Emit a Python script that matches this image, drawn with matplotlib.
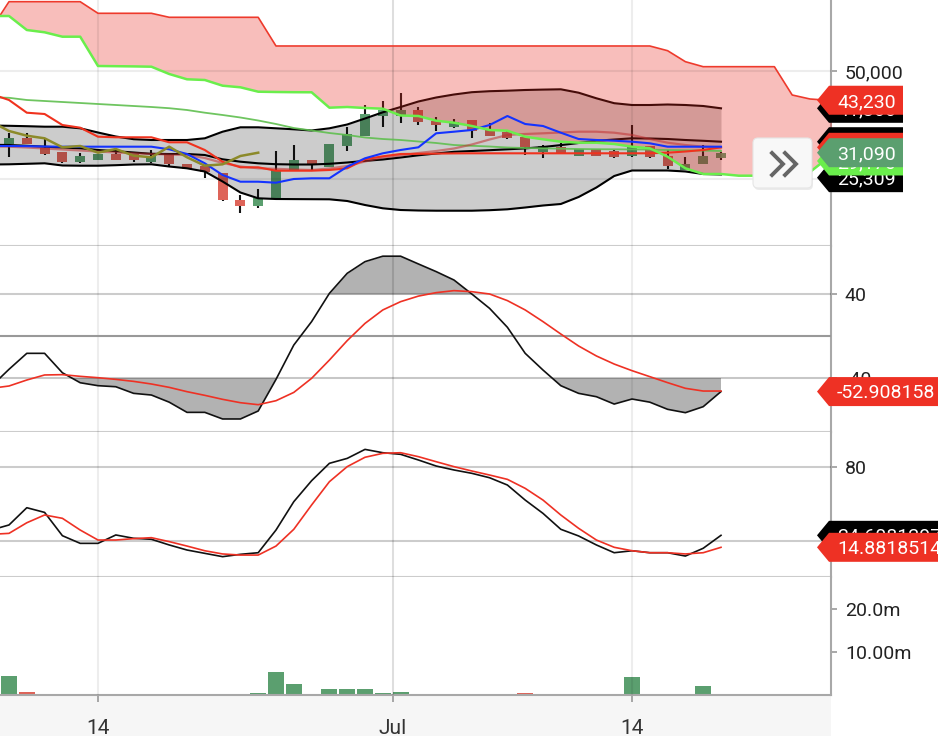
import matplotlib.pyplot as plt
import numpy as np
from matplotlib.patches import Polygon, FancyBboxPatch, Rectangle
from matplotlib.lines import Line2D
from matplotlib.transforms import IdentityTransform

plt.rcParams['font.family'] = ['Roboto', 'DejaVu Sans']

# daily candles, index 0 = first visible candle
opens = [33102, 34491, 32176, 31250, 28935, 29398, 30787, 30787, 28935, 30556,
         28472, 28009, 26458, 20139, 18750, 20602, 27083, 29398, 27778, 32639,
         35023, 39584, 39584, 40972, 38495, 36967, 38657, 36343, 35949, 34792,
         31320, 32407, 30394, 31945, 31551, 30324, 32639, 30324, 27083, 28472,
         29861]
highs = [35648, 35648, 34259, 31300, 31019, 30900, 31945, 30900, 31713, 30600,
         28500, 28100, 26500, 21296, 22685, 31482, 32870, 29500, 33200, 37037,
         42129, 43125, 44977, 41736, 39422, 38889, 38700, 38032, 36000, 34900,
         32870, 33333, 32000, 32000, 31600, 37500, 32700, 31713, 30024, 32870,
         31200]
lows = [30200, 33000, 30556, 28704, 28704, 29300, 29300, 28935, 28800, 28009,
        27200, 25231, 19900, 17130, 18287, 20139, 27083, 27083, 27700, 31482,
        34900, 37037, 38032, 37500, 36181, 36900, 34491, 34900, 34300, 30556,
        29861, 31000, 30300, 30300, 29900, 30162, 29900, 27315, 27000, 28400,
        29500]
closes = [34491, 33102, 30787, 28935, 30324, 30787, 29398, 29398, 30324, 28472,
          27315, 26620, 20139, 18750, 20602, 27083, 29398, 28472, 33102, 35417,
          40046, 40972, 40972, 38264, 37500, 38264, 36111, 35023, 34421, 32338,
          32639, 31088, 31945, 30394, 30024, 32477, 30024, 28079, 28400, 30324,
          31090]
volumes = [4.5, 0.74, 0.28, 0, 0, 0.28, 0, 0, 0.28, 0,
           0, 0, 0, 0, 0.35, 5.4, 2.67, 0, 1.28, 1.28,
           1.28, 0.35, 0.74, 0, 0, 0, 0, 0, 0, 0.35,
           0, 0, 0, 0, 0, 4.14, 0, 0, 0, 2.2,
           0]  # millions

# indicator lines, index -1 .. 40
bb_upper = [37384, 37314, 37222, 37106, 37106, 36736, 35763, 34837, 34213, 34028,
            34028, 34028, 34421, 35949, 36967, 36967, 36736, 36505, 36227, 36736,
            37616, 39005, 40440, 41667, 42940, 43866, 44560, 45093, 45324, 45440,
            45602, 45694, 45764, 44977, 43681, 42546, 42129, 42129, 42245, 42129,
            41898, 41366]
bb_mid = [32917, 32870, 32685, 32477, 32292, 32107, 31713, 31436, 31135, 30834,
          30787, 30787, 30556, 29561, 29005, 28635, 28426, 28357, 28357, 28519,
          28820, 29190, 29514, 29977, 30486, 30903, 31296, 31482, 31667, 31875,
          32083, 32407, 32847, 33333, 33843, 34144, 34421, 34375, 34259, 34028,
          33843, 33634]
bb_lower = [28357, 28403, 28519, 28635, 28125, 28079, 28079, 28195, 28357, 28403,
            27894, 27477, 26736, 24421, 21875, 20532, 20370, 20347, 20324, 20301,
            19907, 18981, 18218, 17824, 17708, 17662, 17662, 17662, 17778, 17986,
            18403, 18866, 19213, 20833, 23032, 25694, 26968, 26968, 26968, 26736,
            26157, 26041]
tenkan = [32639, 32639, 32593, 32523, 32477, 32477, 32477, 32477, 32477, 32477,
          31875, 30787, 28635, 25926, 24375, 24375, 24143, 25000, 25162, 25162,
          27847, 29792, 30949, 31713, 32338, 35579, 35949, 36343, 37500, 39583,
          37731, 37268, 35718, 34259, 34028, 33866, 33634, 33264, 32477, 32477,
          32477, 32477]
kijun = [44676, 43287, 40347, 40046, 37500, 36875, 34792, 34653, 34653, 34653,
         33495, 33495, 31713, 29005, 27709, 27709, 26922, 26922, 26922, 27083,
         27477, 29561, 30255, 30787, 30834, 30880, 30926, 30949, 30949, 30949,
         30949, 30949, 30949, 30949, 30949, 30949, 30949, 30949, 31088, 31366,
         31713, 32338]
ma_short = [32523, 32477, 32292, 32061, 31829, 31597, 31366, 31135, 30949, 30787,
            30671, 30556, 29861, 28704, 27894, 27477, 27361, 27199, 27083, 27431,
            28009, 29051, 29977, 30440, 31019, 31482, 32061, 32986, 34144, 35185,
            35417, 35579, 35764, 35949, 35949, 35718, 35185, 34259, 33403, 32870,
            32477, 32338]
ma_long = [43912, 43796, 43287, 43055, 42824, 42593, 42361, 42130, 41898, 41667,
           41389, 40972, 40347, 39815, 39236, 38542, 37731, 36806, 36227, 35648,
           35185, 34606, 34259, 34028, 33681, 33333, 32870, 32685, 32523, 32292,
           32176, 32107, 32014, 31945, 31898, 31875, 31852, 31806, 31713, 31644,
           31575, 31482]

# cloud, shifted forward: index -1 .. 47
span_a = [62731, 62731, 59491, 58958, 57940, 57940, 51157, 51111, 51065, 50995,
          49306, 48079, 47917, 46597, 46227, 45209, 45139, 45093, 45070, 41505,
          41667, 41435, 41273, 39700, 39583, 38495, 38032, 37269, 36343, 36181,
          34792, 34190, 33634, 33403, 33403, 33102, 32477, 32107, 30162, 27477,
          26157, 26157, 25764, 25764, 25694, 25694, 26620, 29861, 31713]
span_b = [59722, 66041, 66041, 66041, 66041, 66041, 63356, 63356, 63356, 63356,
          62430, 62430, 62430, 62430, 62430, 62430, 55787, 55787, 55787, 55787,
          55787, 55787, 55787, 55787, 55787, 55787, 55787, 55787, 55787, 55787,
          55787, 55787, 55787, 55787, 55787, 55787, 55787, 55787, 54699, 52153,
          50995, 50995, 50995, 50995, 50995, 44444, 43518, 43230, 43230]

# oscillator panel, index -1 .. 40
cci = [-48, -31.7, -16.5, -16.5, -35, -44.5, -47.3, -48.3, -54.6, -56.2,
       -63, -72.7, -72.7, -79, -79, -71.4, -41.3, -8.6, 13.7, 40.6,
       59.7, 70.8, 76, 76, 68.6, 61.3, 53.3, 40, 26.3, 8.3,
       -16.5, -32.4, -47.3, -54.6, -57.8, -64.8, -60, -63, -69.8, -73,
       -67.3, -52.908158]
cci_signal = [-49.8, -47.6, -41.9, -37.1, -36.8, -38.4, -39.7, -41.3, -43.2, -45.7,
              -48.9, -53, -56.5, -60.3, -63.5, -65.4, -61.6, -53.7, -40.3, -22.9,
              -4.4, 12, 24.8, 32.7, 38, 41.3, 43.2, 42.2, 40, 33.7,
              24.8, 13.7, 1.9, -9.5, -19, -26.7, -33, -38.7, -44.4, -49.8,
              -52.4, -52.4]

# stochastic panel, index -1 .. 40
stoch_k = [28.9, 33, 47, 43.2, 24.3, 18.1, 18.1, 24.9, 22.2, 21.4,
           16.8, 12.7, 10, 7.3, 9.2, 10.5, 28.9, 51.9, 68.9, 83,
           87, 94.3, 91.6, 90.3, 85.7, 80.8, 77.6, 74.9, 71.3, 65.4,
           53.2, 42.4, 29.5, 24.1, 16.8, 10.5, 12.1, 10.5, 10.5, 7.8,
           14.1, 24.6081297]
stoch_d = [25.4, 26.2, 34.8, 41.1, 38.4, 28.9, 20.8, 20.8, 21.9, 22.7,
           19.5, 15.9, 12.1, 9.5, 8.6, 8.6, 15.9, 29.5, 49.2, 68.1,
           80.3, 87.9, 91.1, 91.6, 88.4, 84.3, 80.3, 76.8, 73.5, 70,
           62.7, 53.2, 41.1, 30.3, 20.8, 14.9, 12.1, 10.5, 10.5, 9.5,
           10.5, 14.8818514]

tick_pos = [5, 21.57, 35]
tick_labels = ['14', 'Jul', '14']
low_label = 25309
span_a_label = 29170

GREEN = '#5b9f6f'
RED = '#de6459'
TAG_RED = '#ee3124'

W, H = 938, 736
RIGHT = 831
fig = plt.figure(figsize=(W / 100, H / 100), dpi=100)


def panel(top, bottom):
    return fig.add_axes([0, 1 - bottom / H, RIGHT / W, (bottom - top) / H])


ax_p = panel(0, 246)
ax_o = panel(246, 432)
ax_s = panel(432, 577)
ax_v = panel(577, 695)

for ax in (ax_p, ax_o, ax_s, ax_v):
    ax.set_xlim(-0.5056, 46.18)
    ax.spines['top'].set_visible(False)
    ax.spines['left'].set_visible(False)
    ax.spines['right'].set_color('#a8a8a8')
    ax.spines['right'].set_linewidth(1.5)
    ax.spines['bottom'].set_color('#cccccc')
    ax.spines['bottom'].set_linewidth(1.5)
    ax.yaxis.tick_right()
    ax.tick_params(axis='y', length=4, width=1.2, color='#999999',
                   labelsize=14, labelcolor='#222222', pad=6)
    ax.set_xticks(tick_pos)
    ax.tick_params(axis='x', length=0, labelbottom=False)
    for t, lab in zip(tick_pos, tick_labels):
        ax.axvline(t, color='black', alpha=0.13 if lab == 'Jul' else 0.07,
                   lw=1.5, zorder=5)

x = np.arange(len(closes))
xl = np.arange(-1, 41)
xc = np.arange(-1, 48)
o = np.array(opens)
c = np.array(closes)
up = c >= o

# price panel
ax_p.set_ylim(9491, 66435)
ax_p.set_yticks([25000, 50000], ['25,000', '50,000'])
for v in (25000, 50000):
    ax_p.axhline(v, color='black', alpha=0.07, lw=1.5, zorder=5)
ax_p.vlines(x, lows, highs, color='#151515', lw=1.5, zorder=1)
ax_p.bar(x, np.abs(c - o), bottom=np.minimum(o, c), width=0.56,
         color=np.where(up, GREEN, RED), zorder=1.2)
ax_p.fill_between(xl, bb_lower, bb_upper, color='black', alpha=0.2, lw=0, zorder=2)
for band in (bb_upper, bb_mid, bb_lower):
    ax_p.plot(xl, band, color='black', lw=1.5, zorder=2.5)
ax_p.fill_between(xc, span_a, span_b, color='#e8281e', alpha=0.3, lw=0, zorder=3)
ax_p.plot(xl, ma_long, color='#5fbf4f', lw=1.3, alpha=0.9, zorder=6)
ax_p.plot(xl, ma_short, color='#c03030', lw=1.6, alpha=0.55, zorder=6)
ax_p.plot(xl, kijun, color='#f0321e', lw=1.5, zorder=6)
ax_p.plot(xl, tenkan, color='#1433ff', lw=1.5, zorder=6)
ax_p.plot(xc, span_b, color='#ee3a2c', lw=1.2, zorder=6)
ax_p.plot(xc, span_a, color='#6aee4c', lw=1.8, zorder=6)
ax_p.plot(x[25:] - 26, c[25:], color='#8c8a2a', lw=1.8, zorder=6)

# oscillator panel
co = np.array(cci)
ax_o.set_ylim(-91.4, 85.7)
ax_o.set_yticks([-40, 40], ['-40', '40'])
ax_o.fill_between(xl, co, 40, where=co > 40, interpolate=True,
                  color='black', alpha=0.3, lw=0)
ax_o.fill_between(xl, co, -40, where=co < -40, interpolate=True,
                  color='black', alpha=0.3, lw=0)
ax_o.axhline(40, color='black', alpha=0.2, lw=1.5, zorder=5)
ax_o.axhline(-40, color='black', alpha=0.22, lw=1.5, zorder=5)
ax_o.axhline(0, color='#999999', lw=1.5, zorder=5)
ax_o.plot(xl, cci, color='#111111', lw=1.2, zorder=6)
ax_o.plot(xl, cci_signal, color='#ee3124', lw=1.2, zorder=6)

# stochastic panel
ax_s.set_ylim(-9.19, 108.4)
ax_s.set_yticks([20, 80], ['20', '80'])
for v in (20, 80):
    ax_s.axhline(v, color='black', alpha=0.2, lw=1.5, zorder=5)
ax_s.plot(xl, stoch_k, color='#111111', lw=1.2, zorder=6)
ax_s.plot(xl, stoch_d, color='#ee3124', lw=1.2, zorder=6)

# volume panel
ax_v.set_ylim(0, 27.44)
ax_v.set_yticks([10, 20], ['10.00m', '20.0m'])
ax_v.bar(x, volumes, width=0.9, color=np.where(up, GREEN, RED), zorder=2)
ax_v.spines['bottom'].set_color('#a8a8a8')
ax_v.set_xticks(tick_pos, tick_labels)
ax_v.tick_params(axis='x', length=5, width=1.2, color='#999999', labelsize=15,
                 labelcolor='#333333', pad=12, labelbottom=True)

fig.add_artist(Rectangle((0, 0), RIGHT, 41, transform=IdentityTransform(),
                         facecolor='#f6f6f6', edgecolor='none', zorder=-1))

# value tags on the right axis
zo = [10]


def tag(ax, value, text, color, x_end=903):
    yc = ax.transData.transform((0, value))[1]
    h = 14.5
    pts = [(817, yc), (829, yc + h), (x_end, yc + h), (x_end, yc - h), (829, yc - h)]
    fig.add_artist(Polygon(pts, closed=True, facecolor=color, edgecolor='none',
                           transform=IdentityTransform(), zorder=zo[0]))
    fig.text(837 / W, (yc - 6.9) / H, text, color='white', fontsize=14,
             ha='left', va='baseline', zorder=zo[0] + 1)
    zo[0] += 2


edge = ax_p.get_xlim()[1]
tag(ax_p, low_label, f'{low_label:,}', 'black')
tag(ax_p, bb_mid[-1], f'{bb_mid[-1]:,}', 'black')
tag(ax_p, kijun[-1], f'{kijun[-1]:,}', TAG_RED)
tag(ax_p, span_a_label, f'{span_a_label:,}', '#6aee4c')
tag(ax_p, closes[-1], f'{closes[-1]:,}', GREEN)
tag(ax_p, bb_upper[-1], f'{bb_upper[-1]:,}', 'black')
sb_edge = np.interp(edge, xc, span_b)
tag(ax_p, sb_edge, f'{sb_edge:,.0f}', TAG_RED)
tag(ax_o, cci[-1], f'{cci[-1]:.6f}', TAG_RED, x_end=945)
tag(ax_s, stoch_k[-1], f'{stoch_k[-1]:.7f}', 'black', x_end=945)
tag(ax_s, stoch_d[-1], f'{stoch_d[-1]:.7f}', TAG_RED, x_end=945)

# scroll-to-latest button
fig.add_artist(FancyBboxPatch((754, H - 190), 59, 50, boxstyle='round,pad=0,rounding_size=5',
                              transform=IdentityTransform(), facecolor='black',
                              alpha=0.08, edgecolor='none', zorder=40))
fig.add_artist(FancyBboxPatch((753, H - 188), 59, 50, boxstyle='round,pad=0,rounding_size=5',
                              transform=IdentityTransform(), facecolor='#f8f8f8',
                              edgecolor='#e6e6e6', lw=0.8, zorder=41))
for dx in (0, 13):
    fig.add_artist(Line2D([772 + dx, 783 + dx, 772 + dx], [H - 153, H - 164, H - 175],
                          transform=IdentityTransform(), color='#666666', lw=2.8,
                          solid_joinstyle='miter', zorder=42))

fig.savefig('out.png', dpi=100)
